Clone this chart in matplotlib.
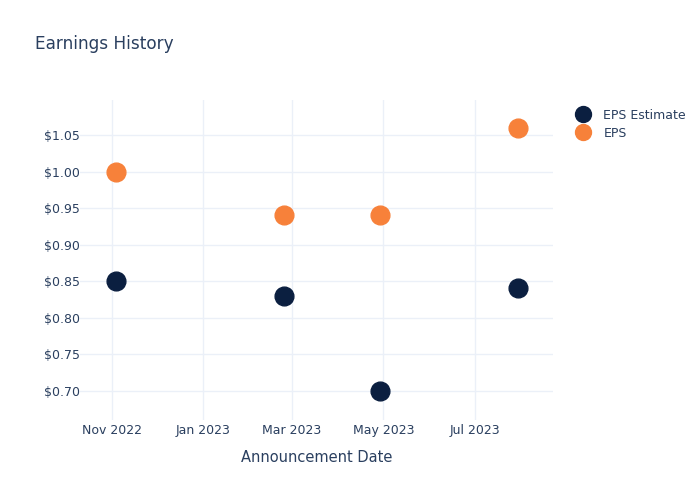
import datetime as dt

import matplotlib.dates as mdates
import matplotlib.pyplot as plt
from matplotlib.ticker import FuncFormatter

# announcement dates and values
dates = [
    dt.datetime(2022, 11, 4),
    dt.datetime(2023, 2, 24),
    dt.datetime(2023, 4, 29),
    dt.datetime(2023, 7, 30),
]
eps_estimate = [0.85, 0.83, 0.70, 0.84]
eps_actual = [1.00, 0.94, 0.94, 1.06]

TEXT = "#2a3f5f"
GRID = "#ebf0f8"
NAVY = "#0b1f40"
ORANGE = "#f7813a"

plt.rcParams["font.family"] = ["DejaVu Sans"]

fig = plt.figure(figsize=(7, 5), dpi=100)
ax = fig.add_axes([80 / 700, 80 / 500, 473 / 700, 320 / 500])

ax.plot(dates, eps_estimate, linestyle="None", marker="o", markersize=13.5,
        color=NAVY, label="EPS Estimate", zorder=3)
ax.plot(dates, eps_actual, linestyle="None", marker="o", markersize=13.5,
        color=ORANGE, label="EPS", zorder=3)

ax.set_xlim(dt.datetime(2022, 10, 11), dt.datetime(2023, 8, 22))
ax.set_ylim(0.660, 1.098)

ax.xaxis.set_major_locator(mdates.MonthLocator(bymonth=[1, 3, 5, 7, 11]))
ax.xaxis.set_major_formatter(mdates.DateFormatter("%b %Y"))
ax.set_yticks([0.70, 0.75, 0.80, 0.85, 0.90, 0.95, 1.00, 1.05])
ax.yaxis.set_major_formatter(FuncFormatter(lambda v, _: f"${v:.2f}"))

ax.grid(True, color=GRID, linewidth=1)
ax.set_axisbelow(True)
for s in ax.spines.values():
    s.set_visible(False)
ax.tick_params(length=0, colors=TEXT, labelsize=9)
ax.tick_params(axis="y", pad=0)
ax.tick_params(axis="x", pad=3)

ax.set_xlabel("Announcement Date", color=TEXT, fontsize=10.5, labelpad=9)
fig.text(35 / 700, 1 - 44 / 500, "Earnings History", color=TEXT,
         fontsize=12.2, va="center", ha="left")

leg = ax.legend(loc="upper left", bbox_to_anchor=(1.014, 1.008), frameon=False,
                fontsize=9, labelcolor=TEXT, handletextpad=0.6,
                labelspacing=0.4, markerscale=0.85)

fig.savefig("out.png", dpi=100)
